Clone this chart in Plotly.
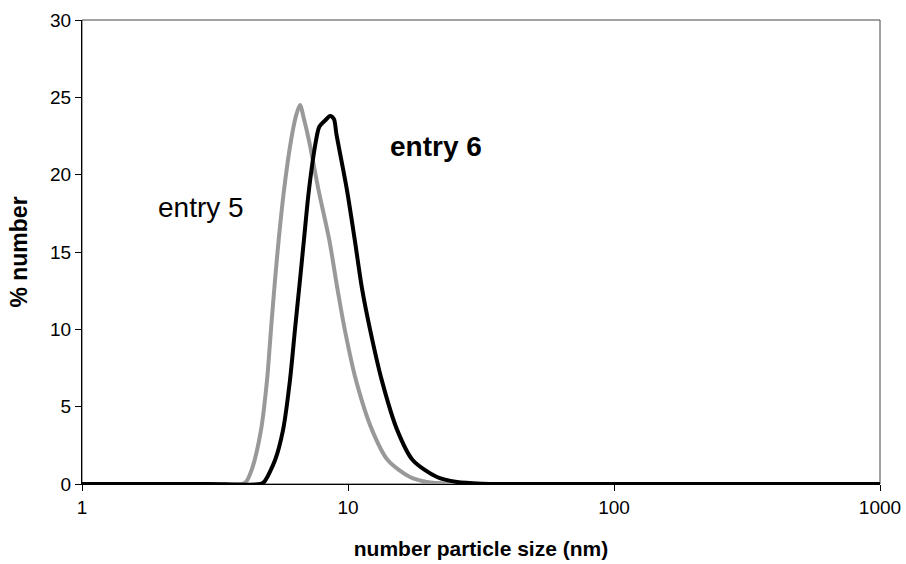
import plotly.graph_objects as go

# entry 5 (grey)
size_e5 = [1, 2, 3, 4.0, 4.12, 4.36, 4.71, 4.96, 5.135, 5.317, 5.503, 5.746, 6.105, 6.375, 6.6,
           6.83, 7.134, 7.75, 8.5, 9.13, 9.72, 10.72, 12.31, 14.1, 17.1, 19.8, 24, 30,
           50, 100, 200, 500, 1000]
pct_e5 = [0, 0, 0, 0, 0.1, 1.0, 3.5, 6.7, 10.0, 13.2, 16.0, 19.0, 22.2, 23.8, 24.5,
          23.6, 22.2, 19.0, 15.8, 12.6, 10.0, 6.7, 3.5, 1.55, 0.45, 0.13, 0.02, 0,
          0, 0, 0, 0, 0]

# entry 6 (black)
size_e6 = [1, 2, 3, 4.7, 4.85, 5.32, 5.70, 6.05, 6.32, 6.60, 6.83, 7.13, 7.58, 7.8,
           8.2, 8.56, 8.85, 9.05, 9.91, 10.6, 11.3, 12.1, 13.4, 15.3, 17.5, 21.6,
           25.7, 32, 40, 100, 200, 500, 1000]
pct_e6 = [0, 0, 0, 0, 0.15, 1.55, 3.5, 6.7, 10.0, 13.2, 15.8, 19.0, 22.2, 23.1,
          23.5, 23.8, 23.6, 22.6, 19.0, 15.8, 12.6, 10.0, 6.7, 3.5, 1.55, 0.45,
          0.13, 0.02, 0, 0, 0, 0, 0]

x_ticks = [1, 10, 100, 1000]
y_ticks = [0, 5, 10, 15, 20, 25, 30]

FONT = "Liberation Sans, Arial, sans-serif"

fig = go.Figure()
fig.add_trace(go.Scatter(x=size_e5, y=pct_e5, mode="lines", name="entry 5",
                         line=dict(color="#999999", width=4, shape="spline", smoothing=0.8)))
fig.add_trace(go.Scatter(x=size_e6, y=pct_e6, mode="lines", name="entry 6",
                         line=dict(color="#000000", width=4, shape="spline", smoothing=0.8)))

fig.add_annotation(x=0.447, y=17.9, xref="x", yref="y", text="entry 5", showarrow=False,
                   font=dict(family=FONT, size=28, color="black"))
fig.add_annotation(x=1.33, y=21.8, xref="x", yref="y", text="<b>entry 6</b>", showarrow=False,
                   font=dict(family=FONT, size=28, color="black"))

fig.add_shape(type="rect", xref="paper", yref="paper", x0=0, y0=0, x1=1, y1=1,
              line=dict(color="#444444", width=1), layer="below")

fig.update_layout(
    width=906, height=564,
    margin=dict(l=82, r=26, t=20, b=80, autoexpand=False),
    paper_bgcolor="white", plot_bgcolor="white",
    showlegend=False,
    font=dict(family=FONT, size=19, color="black"),
    xaxis=dict(type="log", range=[0, 3], tickvals=x_ticks, ticktext=[str(v) for v in x_ticks],
               showgrid=False, zeroline=False, showline=True, linecolor="black", linewidth=1,
               ticks="outside", ticklen=6, tickcolor="black", automargin=False,
               title=dict(text="<b>number particle size (nm)</b>", font=dict(size=21), standoff=24)),
    yaxis=dict(range=[0, 30], tickvals=y_ticks, showgrid=False, zeroline=False,
               showline=True, linecolor="black", linewidth=1, automargin=False,
               ticks="outside", ticklen=6, tickcolor="black",
               title=dict(text="<b>% number</b>", font=dict(size=23), standoff=16)),
)

fig.write_html("out.html")
